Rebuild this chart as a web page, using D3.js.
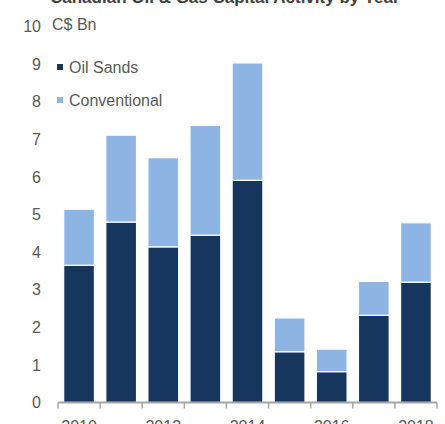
<html>
<head>
<script src="https://d3js.org/d3.v7.min.js"></script>
<style>
  body { margin: 0; background: #fff; }
  text { font-family: "Liberation Sans", Arial, sans-serif; }
</style>
</head>
<body>
<script>
var years = ["2010", "2011", "2012", "2013", "2014", "2015", "2016", "2017", "2018"];
var oilSands = [3.65, 4.80, 4.14, 4.45, 5.91, 1.35, 0.82, 2.32, 3.20];
var conventional = [1.49, 2.31, 2.37, 2.92, 3.12, 0.90, 0.60, 0.90, 1.58];
var yTicks = [0, 1, 2, 3, 4, 5, 6, 7, 8, 9, 10];
var xLabels = ["2010", "2012", "2014", "2016", "2018"];

var w = 445, h = 424;
var dark = "#17365d", light = "#8eb4e3", grey = "#595959";

var svg = d3.select("body").append("svg").attr("width", w).attr("height", h);

var x = d3.scaleBand().domain(years).range([58, 437]).paddingInner(0.27).paddingOuter(0.135);
var y = d3.scaleLinear().domain([0, 10]).range([402.5, 26.5]);

// title, cut off at the top edge as in the source
svg.append("text").attr("x", 50).attr("y", 3).attr("font-size", 17).attr("font-weight", "bold")
  .attr("fill", "#404040").text("Canadian Oil & Gas Capital Activity by Year");

// y tick labels (no axis line)
svg.append("g").selectAll("text").data(yTicks).enter().append("text")
  .attr("x", 41).attr("y", function(d){ return y(d); }).attr("dy", "0.35em")
  .attr("text-anchor", "end").attr("font-size", 16).attr("fill", grey)
  .text(function(d){ return d; });

svg.append("text").attr("x", 52).attr("y", y(10)).attr("dy", "0.2em")
  .attr("font-size", 16).attr("fill", grey).text("C$ Bn");

// bars
var g = svg.append("g");
g.selectAll(".oil").data(years).enter().append("rect").attr("class", "oil")
  .attr("x", function(d){ return x(d); }).attr("width", x.bandwidth())
  .attr("y", function(d, i){ return y(oilSands[i]); })
  .attr("height", function(d, i){ return y(0) - y(oilSands[i]); })
  .attr("fill", dark).attr("stroke", "#fff").attr("stroke-width", 1.2);
g.selectAll(".conv").data(years).enter().append("rect").attr("class", "conv")
  .attr("x", function(d){ return x(d); }).attr("width", x.bandwidth())
  .attr("y", function(d, i){ return y(oilSands[i] + conventional[i]); })
  .attr("height", function(d, i){ return y(oilSands[i]) - y(oilSands[i] + conventional[i]); })
  .attr("fill", light).attr("stroke", "#fff").attr("stroke-width", 1.2);

// x axis
var step = x.step();
var ax = svg.append("g").attr("transform", "translate(0," + y(0) + ")");
ax.append("line").attr("x1", 58).attr("x2", 437).attr("stroke", "#a6a6a6").attr("stroke-width", 2);
var bounds = years.map(function(d){ return x(d) - (step - x.bandwidth()) / 2; }).concat([437]);
ax.selectAll(".tk").data(bounds).enter().append("line").attr("class", "tk")
  .attr("x1", function(d){ return d; }).attr("x2", function(d){ return d; })
  .attr("y1", 0).attr("y2", 6).attr("stroke", "#a6a6a6").attr("stroke-width", 1.5);
ax.selectAll(".lbl").data(xLabels).enter().append("text").attr("class", "lbl")
  .attr("x", function(d){ return x(d) + x.bandwidth() / 2; }).attr("y", 29)
  .attr("text-anchor", "middle").attr("font-size", 16).attr("fill", grey)
  .text(function(d){ return d; });

// legend
var legend = [["Oil Sands", dark], ["Conventional", light]];
var lg = svg.append("g").selectAll("g").data(legend).enter().append("g")
  .attr("transform", function(d, i){ return "translate(57," + (67 + i * 33) + ")"; });
lg.append("rect").attr("x", 0).attr("y", -3).attr("width", 6).attr("height", 6)
  .attr("fill", function(d){ return d[1]; });
lg.append("text").attr("x", 12).attr("y", 0).attr("dy", "0.35em")
  .attr("font-size", 16).attr("fill", grey).text(function(d){ return d[0]; });
</script>
</body>
</html>
